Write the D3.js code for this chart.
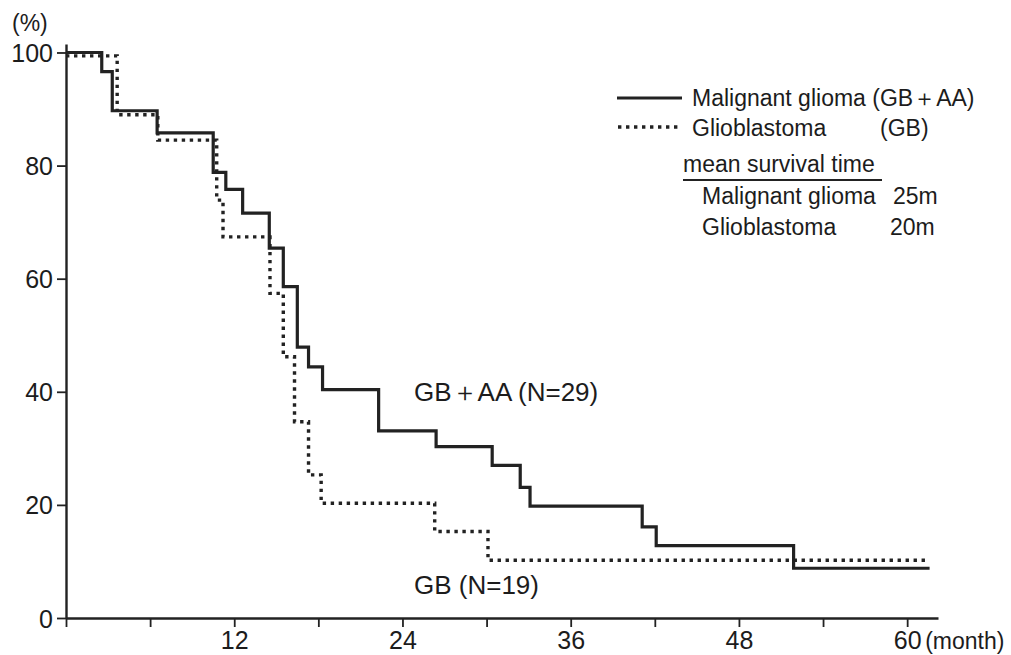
<!DOCTYPE html>
<html>
<head>
<meta charset="utf-8">
<script src="https://cdn.jsdelivr.net/npm/d3@7"></script>
<style>
  body { margin: 0; background: #fff; }
  svg text { font-family: "Liberation Sans", Arial, Helvetica, sans-serif; fill: #1c1c1c; }
</style>
</head>
<body>
<svg id="chart" width="1011" height="655"></svg>
<script>
// Malignant glioma (GB+AA), N=29 : months where survival steps, and level after each step
var gbaaMonths = [0, 2.55, 3.3, 6.5, 10.5, 11.4, 12.6, 14.5, 15.5, 16.5, 17.3, 18.3, 22.3, 26.4, 30.4, 32.4, 33.1, 41.1, 42.1, 51.9, 61.6];
var gbaaSurvival = [100, 96.6, 89.7, 85.8, 78.8, 75.8, 71.6, 65.4, 58.6, 47.9, 44.4, 40.4, 33.1, 30.3, 27.0, 23.1, 19.8, 16.1, 12.8, 8.8, 8.8];

// Glioblastoma (GB), N=19
var gbMonths = [0, 3.65, 6.55, 10.75, 11.2, 14.55, 15.5, 16.3, 17.3, 18.2, 26.3, 30.1, 61.3];
var gbSurvival = [99.4, 89.0, 84.5, 73.9, 67.4, 57.4, 46.2, 34.7, 25.3, 20.3, 15.3, 10.2, 10.2];

var xTicks = [0, 6, 12, 18, 24, 30, 36, 42, 48, 54, 60];
var xLabels = [12, 24, 36, 48, 60];
var yTicks = [0, 20, 40, 60, 80, 100];

var legendNames = ['Malignant glioma', 'Glioblastoma'];
var legendCodes = ['(GB\uFF0BAA)', '(GB)'];
var meanSurvival = ['25m', '20m'];

(function () {
    'use strict';
    var svg = d3.select('#chart');
    var ink = '#222';

    var x = d3.scaleLinear().domain([0, 62.2]).range([66, 938]);
    var y = d3.scaleLinear().domain([0, 101.5]).range([618, 44]);

    // axes
    var xAxis = d3.axisBottom(x).tickValues(xTicks).tickSize(9).tickSizeOuter(0)
        .tickFormat(function (d) { return xLabels.indexOf(d) >= 0 ? d : ''; });
    var gx = svg.append('g').attr('transform', 'translate(0,' + y(0) + ')').call(xAxis);
    gx.select('.domain').attr('stroke', ink).attr('stroke-width', 2.4);
    gx.selectAll('.tick line').attr('stroke', ink).attr('stroke-width', 1.8);
    gx.selectAll('.tick text').attr('dy', 0).attr('y', 31).style('font-size', '25px');

    var yAxis = d3.axisLeft(y).tickValues(yTicks).tickSize(9).tickSizeOuter(0);
    var gy = svg.append('g').attr('transform', 'translate(' + x(0) + ',0)').call(yAxis);
    gy.select('.domain').attr('stroke', ink).attr('stroke-width', 2.4);
    gy.selectAll('.tick line').attr('stroke', ink).attr('stroke-width', 1.8)
        .attr('x2', function (d) { return d === 100 ? 4 : 0; })
        .attr('x1', -9);
    gy.selectAll('.tick text').attr('x', -13).attr('dy', '0.36em').style('font-size', '25px');

    svg.append('text').attr('x', 12).attr('y', 31).style('font-size', '23px').text('(%)');
    svg.append('text').attr('x', x(60) + 18).attr('y', y(0) + 31).style('font-size', '23px').text('(month)');

    // survival curves
    var line = d3.line()
        .x(function (d) { return x(d[0]); })
        .y(function (d) { return y(d[1]); })
        .curve(d3.curveStepAfter);

    svg.append('path').datum(d3.zip(gbMonths, gbSurvival))
        .attr('d', line).attr('fill', 'none').attr('stroke', ink)
        .attr('stroke-width', 3.4).attr('stroke-dasharray', '3.4,4.6');

    svg.append('path').datum(d3.zip(gbaaMonths, gbaaSurvival))
        .attr('d', line).attr('fill', 'none').attr('stroke', ink)
        .attr('stroke-width', 3.2);

    // curve labels
    svg.append('text').attr('x', 414).attr('y', 401).style('font-size', '26px').text('GB\uFF0BAA (N=29)');
    svg.append('text').attr('x', 414).attr('y', 594).style('font-size', '26px').text('GB (N=19)');

    // legend
    var lg = svg.append('g');
    lg.append('line').attr('x1', 617).attr('x2', 682).attr('y1', 98).attr('y2', 98)
        .attr('stroke', ink).attr('stroke-width', 3.2);
    lg.append('line').attr('x1', 618).attr('x2', 682).attr('y1', 127).attr('y2', 127)
        .attr('stroke', ink).attr('stroke-width', 3.4).attr('stroke-dasharray', '3.4,4.6');
    lg.append('text').attr('x', 692).attr('y', 106).style('font-size', '23px').text(legendNames[0] + ' ' + legendCodes[0]);
    lg.append('text').attr('x', 692).attr('y', 136).style('font-size', '23px').text(legendNames[1]);
    lg.append('text').attr('x', 880).attr('y', 136).style('font-size', '23px').text(legendCodes[1]);

    lg.append('text').attr('x', 683).attr('y', 172).style('font-size', '23px').text('mean survival time');
    lg.append('line').attr('x1', 683).attr('x2', 882).attr('y1', 180).attr('y2', 180)
        .attr('stroke', ink).attr('stroke-width', 1.8);
    legendNames.forEach(function (n, i) {
        lg.append('text').attr('x', 702).attr('y', 204 + i * 31).style('font-size', '23px').text(n);
        lg.append('text').attr('x', 893 - i * 3).attr('y', 204 + i * 31).style('font-size', '23px').text(meanSurvival[i]);
    });
})();
</script>
</body>
</html>
